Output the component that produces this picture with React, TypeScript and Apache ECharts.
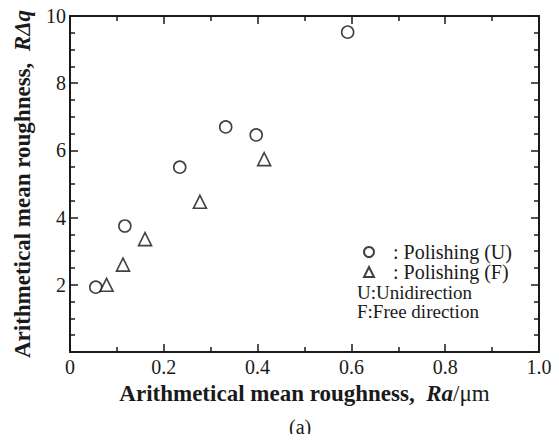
import React, { useEffect, useRef } from "react";
import * as echarts from "echarts";

const circleX = [0.055, 0.117, 0.234, 0.332, 0.397, 0.592];
const circleY = [1.93, 3.75, 5.5, 6.7, 6.46, 9.52];
const triX = [0.078, 0.113, 0.16, 0.277, 0.414];
const triY = [2.0, 2.6, 3.36, 4.47, 5.74];
const seriesNames = ["Polishing (U)", "Polishing (F)"];
const noteLines = ["U:Unidirection", "F:Free direction"];

const FONT = "Liberation Serif";
const INK = "#1a1a1a";

function xAxisDef(position: string, showLabels: boolean) {
  return {
    type: "value",
    gridIndex: 0,
    position,
    min: 0,
    max: 1,
    interval: 0.2,
    axisLine: { show: true, onZero: false, lineStyle: { color: INK, width: 2 } },
    axisTick: { show: true, inside: true, length: 8, lineStyle: { color: INK, width: 1.5 } },
    minorTick: { show: true, splitNumber: 2, length: 5, lineStyle: { color: INK, width: 1.5 } },
    splitLine: { show: false },
    axisLabel: {
      show: showLabels,
      color: INK,
      fontFamily: FONT,
      fontSize: 20,
      margin: 5,
      formatter: (v: number) => (v === 0 ? "0" : v.toFixed(1)),
    },
  };
}

function yAxisDef(position: string, showLabels: boolean) {
  return {
    type: "value",
    gridIndex: 0,
    position,
    min: 0,
    max: 10,
    interval: 2,
    axisLine: { show: true, onZero: false, lineStyle: { color: INK, width: 2 } },
    axisTick: { show: true, inside: true, length: 8, lineStyle: { color: INK, width: 1.5 } },
    minorTick: { show: true, splitNumber: 4, length: 5, lineStyle: { color: INK, width: 1.5 } },
    splitLine: { show: false },
    axisLabel: {
      show: showLabels,
      color: INK,
      fontFamily: FONT,
      fontSize: 20,
      margin: 4,
      formatter: (v: number) => (v === 0 ? "" : String(v)),
    },
  };
}

export default function App() {
  const ref = useRef<HTMLDivElement>(null);
  useEffect(() => {
    if (!ref.current) return;
    const chart = echarts.init(ref.current, undefined, { renderer: "svg" });
    const bold = { fontFamily: FONT, fontSize: 23, fontWeight: "bold", color: INK };
    chart.setOption({
      animation: false,
      backgroundColor: "#fff",
      grid: { left: 70, top: 16, width: 469, height: 336, containLabel: false },
      xAxis: [
        {
          ...xAxisDef("bottom", true),
          name: "{b|Arithmetical mean roughness,  }{bi|Ra}{n|/μm}",
          nameLocation: "middle",
          nameGap: 28,
          nameTextStyle: {
            rich: {
              b: bold,
              bi: { ...bold, fontStyle: "italic" },
              n: { fontFamily: FONT, fontSize: 23, color: INK },
            },
          },
        },
        xAxisDef("top", false),
      ],
      yAxis: [
        {
          ...yAxisDef("left", true),
          name: "{b|Arithmetical mean roughness,  }{bi|RΔq}",
          nameLocation: "middle",
          nameRotate: 90,
          nameGap: 36,
          nameTextStyle: {
            rich: {
              b: bold,
              bi: { ...bold, fontStyle: "italic" },
            },
          },
        },
        yAxisDef("right", false),
      ],
      legend: {
        orient: "vertical",
        left: 358,
        top: 237,
        itemWidth: 10,
        itemHeight: 10,
        itemGap: 0,
        data: [
          { name: seriesNames[0], icon: "circle", itemStyle: { borderWidth: 2 } },
          { name: seriesNames[1], icon: "triangle", itemStyle: { borderWidth: 2 } },
        ],
        formatter: (n: string) => ": " + n,
        textStyle: { fontFamily: FONT, fontSize: 20, lineHeight: 18, color: INK, padding: [0, 0, 0, 14] },
      },
      graphic: [
        ...noteLines.map((t, i) => ({
          type: "text",
          left: 357,
          top: 283 + i * 19,
          style: { text: t, fontFamily: FONT, fontSize: 19, fill: INK },
        })),
        {
          type: "text",
          left: 289,
          top: 417,
          style: { text: "(a)", fontFamily: FONT, fontSize: 20, fill: INK },
        },
      ],
      series: [
        {
          name: seriesNames[0],
          type: "scatter",
          xAxisIndex: 0,
          yAxisIndex: 0,
          symbol: "circle",
          symbolSize: 12,
          data: circleX.map((x, i) => [x, circleY[i]]),
          itemStyle: { color: "#fff", borderColor: "#111", borderWidth: 1.6 },
        },
        {
          name: seriesNames[1],
          type: "scatter",
          xAxisIndex: 1,
          yAxisIndex: 1,
          symbol: "triangle",
          symbolSize: 13,
          data: triX.map((x, i) => [x, triY[i]]),
          itemStyle: { color: "#fff", borderColor: "#111", borderWidth: 1.6 },
        },
      ],
    });
    return () => chart.dispose();
  }, []);
  return <div ref={ref} style={{ width: 559, height: 442, margin: -8 }} />;
}
